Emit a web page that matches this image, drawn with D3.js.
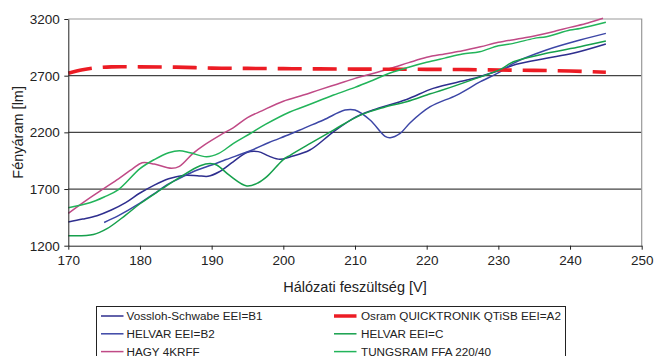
<!DOCTYPE html>
<html>
<head>
<meta charset="utf-8">
<script src="https://cdn.jsdelivr.net/npm/d3@7"></script>
<style>
  body { margin: 0; background: #fff; }
  svg { display: block; font-family: "Liberation Sans", Arial, sans-serif; }
</style>
</head>
<body>
<div id="chart"></div>
<script>
// dimensions
const w = 654;
const h = 356;
const plotL = 68.3, plotR = 641.7, plotT = 19, plotB = 245.7;

// axis ticks
const xTicks = [170, 180, 190, 200, 210, 220, 230, 240, 250];
const yTicks = [1200, 1700, 2200, 2700, 3200];

// series names
const names = ['Vossloh-Schwabe EEI=B1', 'HELVAR EEI=B2', 'HAGY 4KRFF',
  'Osram QUICKTRONIK QTiSB EEI=A2', 'HELVAR EEI=C', 'TUNGSRAM FFA 220/40'];

// voltage / luminous flux pairs
const vosslohV = [170, 172, 174, 176, 178, 180, 182, 184, 186, 188, 189.5, 191, 193, 195, 196.5, 198, 199.5, 201, 203.7, 207, 210.2, 212.5, 217.2, 220.9, 225.6, 227.4, 230.3, 232.5, 236.7, 240.4, 245];
const vosslohL = [1410, 1435, 1465, 1515, 1580, 1665, 1735, 1790, 1820, 1818, 1812, 1850, 1940, 2025, 2030, 1990, 1962, 1985, 2044, 2205, 2338, 2397, 2490, 2588, 2661, 2691, 2750, 2800, 2853, 2897, 2979];

const helvarB2V = [175, 177, 180, 182, 184, 186, 188, 190, 192, 195.4, 198, 200.9, 203, 205.6, 208.6, 210, 212.1, 214.2, 214.9, 216.3, 217.7, 220.5, 224.2, 227.5, 230.3, 232.1, 236.7, 241.4, 245];
const helvarB2L = [1405, 1465, 1575, 1660, 1745, 1810, 1868, 1912, 1960, 2038, 2110, 2183, 2240, 2309, 2397, 2397, 2309, 2165, 2153, 2191, 2285, 2426, 2529, 2647, 2735, 2809, 2926, 3014, 3073];

const hagyV = [170, 172.5, 175, 177, 179, 180.3, 182, 184.4, 185.5, 187.4, 189, 191.2, 193, 195, 197, 200, 202.8, 205, 207.5, 210, 212.5, 215, 217.5, 220, 222.5, 225, 227.5, 230, 232.5, 235, 237.5, 240, 242.5, 244.6];
const hagyL = [1485, 1600, 1706, 1790, 1880, 1932, 1920, 1883, 1900, 2015, 2090, 2176, 2240, 2330, 2390, 2475, 2529, 2575, 2625, 2676, 2720, 2765, 2815, 2862, 2892, 2920, 2955, 2994, 3022, 3050, 3085, 3126, 3165, 3206];

const osramV = [170, 172, 174, 176, 180, 185, 190, 195, 200, 205, 210, 215, 220, 225, 230, 235, 240, 245];
const osramL = [2722, 2752, 2770, 2778, 2778, 2775, 2767, 2764, 2762, 2760, 2758, 2757, 2756, 2754, 2750, 2747, 2741, 2730];

const helvarCV = [170, 173.5, 175.4, 178, 180, 182.8, 185.6, 188.4, 189.8, 190.7, 192.5, 194.9, 196.5, 197.7, 200, 201, 203.7, 207, 210.7, 214, 217.2, 220.5, 222.2, 226.9, 230.3, 232.1, 236.7, 241.4, 245];
const helvarCL = [1288, 1298, 1350, 1470, 1570, 1690, 1805, 1905, 1925, 1912, 1820, 1727, 1755, 1809, 1960, 2000, 2100, 2220, 2350, 2420, 2470, 2540, 2573, 2676, 2756, 2823, 2897, 2955, 3005];

const tungsramV = [170, 173, 175, 177, 180, 182, 184, 185.5, 187, 189.3, 191, 193, 195.4, 197.5, 200.9, 203, 207, 210, 212.5, 215, 217.5, 220, 222.5, 225, 227.4, 230, 232.1, 235, 236.7, 240, 241.4, 245];
const tungsramL = [1535, 1579, 1630, 1695, 1880, 1960, 2020, 2038, 2020, 1985, 2015, 2100, 2190, 2270, 2380, 2430, 2529, 2597, 2660, 2726, 2775, 2818, 2855, 2891, 2911, 2964, 2985, 3029, 3044, 3103, 3117, 3172];

const colors = ['#2e2e8e', '#3c46a6', '#c04a86', '#ec1c24', '#16a04c', '#22b45a'];
const seriesV = [vosslohV, helvarB2V, hagyV, osramV, helvarCV, tungsramV];
const seriesL = [vosslohL, helvarB2L, hagyL, osramL, helvarCL, tungsramL];

const svg = d3.select('#chart').append('svg')
  .attr('width', w)
  .attr('height', h);

// scales
const xScale = d3.scaleLinear().domain([170, 250]).range([plotL, plotR]);
const yScale = d3.scaleLinear().domain([1200, 3200]).range([plotB, plotT]);

// grid lines
svg.append('g').selectAll('line').data(yTicks.filter(d => d > 1200 && d < 3200)).enter().append('line')
  .attr('x1', plotL).attr('x2', plotR)
  .attr('y1', d => yScale(d)).attr('y2', d => yScale(d))
  .attr('stroke', '#444').attr('stroke-width', 1.2);

// frame top and right
svg.append('path')
  .attr('d', `M${plotL},${plotT}H${plotR}V${plotB}`)
  .attr('fill', 'none').attr('stroke', '#999').attr('stroke-width', 1.2);

// series lines
const line = d3.line().curve(d3.curveCatmullRom.alpha(0.5));
seriesV.forEach((xs, i) => {
  const pts = xs.map((v, j) => [xScale(v), yScale(seriesL[i][j])]);
  svg.append('path')
    .attr('d', line(pts))
    .attr('fill', 'none')
    .attr('stroke', colors[i])
    .attr('stroke-width', i === 3 ? 3.6 : 1.5)
    .attr('stroke-dasharray', i === 3 ? '24,11' : null);
});

// axes
const xAxis = d3.axisBottom(xScale).tickValues(xTicks).tickFormat(d3.format('d')).tickSize(4).tickSizeOuter(0);
svg.append('g')
  .attr('transform', 'translate(0,' + plotB + ')')
  .call(xAxis)
  .attr('font-family', null)
  .call(g => g.selectAll('text').attr('font-size', 13.5).attr('fill', '#222').attr('dy', '0.9em'))
  .call(g => g.select('.domain').attr('stroke', '#222'))
  .call(g => g.selectAll('.tick line').attr('stroke', '#222'));

const yAxis = d3.axisLeft(yScale).tickValues(yTicks).tickFormat(d3.format('d')).tickSize(4).tickSizeOuter(0);
svg.append('g')
  .attr('transform', 'translate(' + plotL + ',0)')
  .call(yAxis)
  .attr('font-family', null)
  .call(g => g.selectAll('text').attr('font-size', 13.5).attr('fill', '#222').attr('x', -8.5))
  .call(g => g.select('.domain').attr('stroke', '#222'))
  .call(g => g.selectAll('.tick line').attr('stroke', '#222'));

// axis titles
svg.append('text')
  .attr('x', (plotL + plotR) / 2).attr('y', 292)
  .attr('text-anchor', 'middle')
  .attr('font-size', 14.5).attr('fill', '#222')
  .text('Hálózati feszültség [V]');
svg.append('text')
  .attr('transform', 'translate(22.5,' + ((plotT + plotB) / 2) + ') rotate(-90)')
  .attr('text-anchor', 'middle')
  .attr('font-size', 14.5).attr('fill', '#222')
  .text('Fényáram [lm]');

// legend
const legend = svg.append('g');
legend.append('rect')
  .attr('x', 96.5).attr('y', 306.5)
  .attr('width', 469).attr('height', 60)
  .attr('fill', '#fff').attr('stroke', '#222').attr('stroke-width', 1);
const order = [0, 3, 1, 4, 2, 5];
order.forEach((s, k) => {
  const col = k % 2, row = Math.floor(k / 2);
  const lx = col === 0 ? 101 : 334;
  const ly = 316 + row * 17.8;
  legend.append('line')
    .attr('x1', lx).attr('x2', lx + 22.5)
    .attr('y1', ly).attr('y2', ly)
    .attr('stroke', colors[s])
    .attr('stroke-width', s === 3 ? 3.5 : 1.5);
  legend.append('text')
    .attr('x', col === 0 ? 126.5 : 361).attr('y', ly)
    .attr('dy', '0.36em')
    .attr('font-size', 11.7).attr('fill', '#222')
    .text(names[s]);
});
</script>
</body>
</html>
